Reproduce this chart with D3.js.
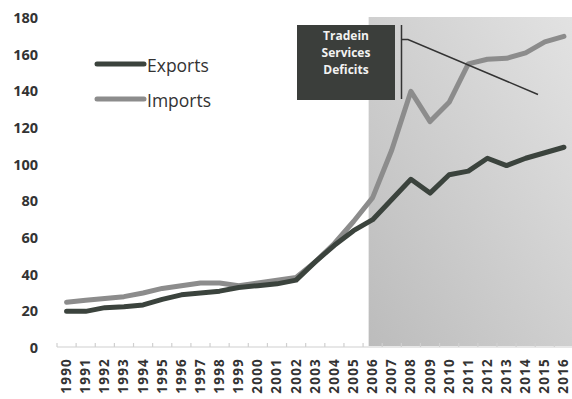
<!DOCTYPE html>
<html>
<head>
<meta charset="utf-8">
<script src="https://cdn.jsdelivr.net/npm/d3@7"></script>
<style>
  html, body { margin: 0; padding: 0; background: #fff; }
  svg { display: block; }
</style>
</head>
<body>
<svg id="chart" width="572" height="399"></svg>
<script>
// Trade in services, 1990-2016 (billions)
const years = d3.range(1990, 2017).map(String);
const exportsVals = [20, 20, 22, 22.5, 23.5, 26.5, 29, 30, 31, 33, 34, 35, 37,
  47, 56, 64, 70, 81, 92, 84.5, 94.5, 96.5, 103.5, 99.5, 103.5, 106.5, 109.5];
const importsVals = [25, 26, 27, 28, 30, 32.5, 34, 35.5, 35.5, 34, 35.5, 37, 38.5,
  47, 57, 69, 82, 108, 140, 123.5, 134, 155, 157.5, 158, 161, 167, 170];
const yTicks = [0, 20, 40, 60, 80, 100, 120, 140, 160, 180];
const seriesNames = ["Exports", "Imports"];
const shadeStart = "2006";
const calloutLines = ["Tradein", "Services", "Deficits"];

const svg = d3.select("#chart");
const font = "'Open Sans', 'Liberation Sans', sans-serif";

const x = d3.scaleBand().domain(years).range([57, 573.5]);
const xc = d => x(d) + x.bandwidth() / 2;
const y = d3.scaleLinear().domain([0, 180]).range([348, 18]);

// Shaded period
const defs = svg.append("defs");
const grad = defs.append("linearGradient").attr("id", "shade")
  .attr("x1", "0").attr("y1", "1").attr("x2", "1").attr("y2", "0");
grad.append("stop").attr("offset", "0").attr("stop-color", "#bcbcbc");
grad.append("stop").attr("offset", "1").attr("stop-color", "#e2e2e2");

const shadeX = xc(shadeStart) - 4;
svg.append("rect")
  .attr("x", shadeX)
  .attr("y", y(180) - 1)
  .attr("width", 572 - shadeX)
  .attr("height", y(0) - 2 - (y(180) - 1))
  .attr("fill", "url(#shade)");

// Y axis labels
svg.append("g").selectAll("text").data(yTicks).join("text")
  .attr("x", 38).attr("y", d => y(d) + 1)
  .attr("text-anchor", "end").attr("dominant-baseline", "middle")
  .attr("font-family", font).attr("font-weight", "bold")
  .attr("font-size", 14.5).attr("fill", "#333")
  .text(d => d);

// X axis with ticks between categories
const xAxis = svg.append("g").attr("transform", `translate(0,${y(0) - 1})`);
xAxis.append("line").attr("x1", x.range()[0]).attr("x2", 572)
  .attr("stroke", "#d0d0d0").attr("stroke-width", 1.2);
xAxis.selectAll("line.tick").data(years.concat(["end"])).join("line")
  .attr("class", "tick")
  .attr("x1", (d, i) => x.range()[0] + i * x.step())
  .attr("x2", (d, i) => x.range()[0] + i * x.step())
  .attr("y1", 0).attr("y2", -4)
  .attr("stroke", "#d0d0d0").attr("stroke-width", 1.2);

svg.append("g").selectAll("text").data(years).join("text")
  .attr("transform", d => `translate(${xc(d) + 4.5},${y(0) + 10}) rotate(-90)`)
  .attr("text-anchor", "end")
  .attr("font-family", font).attr("font-weight", "bold")
  .attr("font-size", 13.5).attr("letter-spacing", 1.2).attr("fill", "#333")
  .text(d => d);

// Lines
const line = d3.line().x((d, i) => xc(years[i])).y(d => y(d));
svg.append("path").datum(importsVals)
  .attr("d", line).attr("fill", "none")
  .attr("stroke", "#8c8c8c").attr("stroke-width", 5)
  .attr("stroke-linejoin", "round").attr("stroke-linecap", "round");
svg.append("path").datum(exportsVals)
  .attr("d", line).attr("fill", "none")
  .attr("stroke", "#3b433d").attr("stroke-width", 5)
  .attr("stroke-linejoin", "round").attr("stroke-linecap", "round");

// Legend
const legend = svg.append("g");
const legendColors = ["#3b433d", "#8c8c8c"];
seriesNames.forEach((name, i) => {
  const ly = 64 + i * 35;
  legend.append("line").attr("x1", 97).attr("x2", 144)
    .attr("y1", ly).attr("y2", ly)
    .attr("stroke", legendColors[i]).attr("stroke-width", 5)
    .attr("stroke-linecap", "round");
  legend.append("text").attr("x", 147).attr("y", ly + 3)
    .attr("dominant-baseline", "middle")
    .attr("font-family", font).attr("font-size", 17.5).attr("fill", "#333")
    .text(name);
});

// Callout box
const callout = svg.append("g");
callout.append("rect").attr("x", 297).attr("y", 25)
  .attr("width", 98).attr("height", 75).attr("fill", "#3b3e3b");
callout.selectAll("text").data(calloutLines).join("text")
  .attr("x", 346).attr("y", (d, i) => 37 + i * 17)
  .attr("text-anchor", "middle").attr("dominant-baseline", "middle")
  .attr("font-family", font).attr("font-weight", "bold")
  .attr("font-size", 12).attr("fill", "#f2f2f2")
  .text(d => d);
callout.append("line").attr("x1", 401.5).attr("x2", 401.5)
  .attr("y1", 25).attr("y2", 99)
  .attr("stroke", "#333").attr("stroke-width", 1.5);
callout.append("polyline")
  .attr("points", "401.5,39.5 408,39.5 538,94.5")
  .attr("fill", "none").attr("stroke", "#333").attr("stroke-width", 1.5);
</script>
</body>
</html>
